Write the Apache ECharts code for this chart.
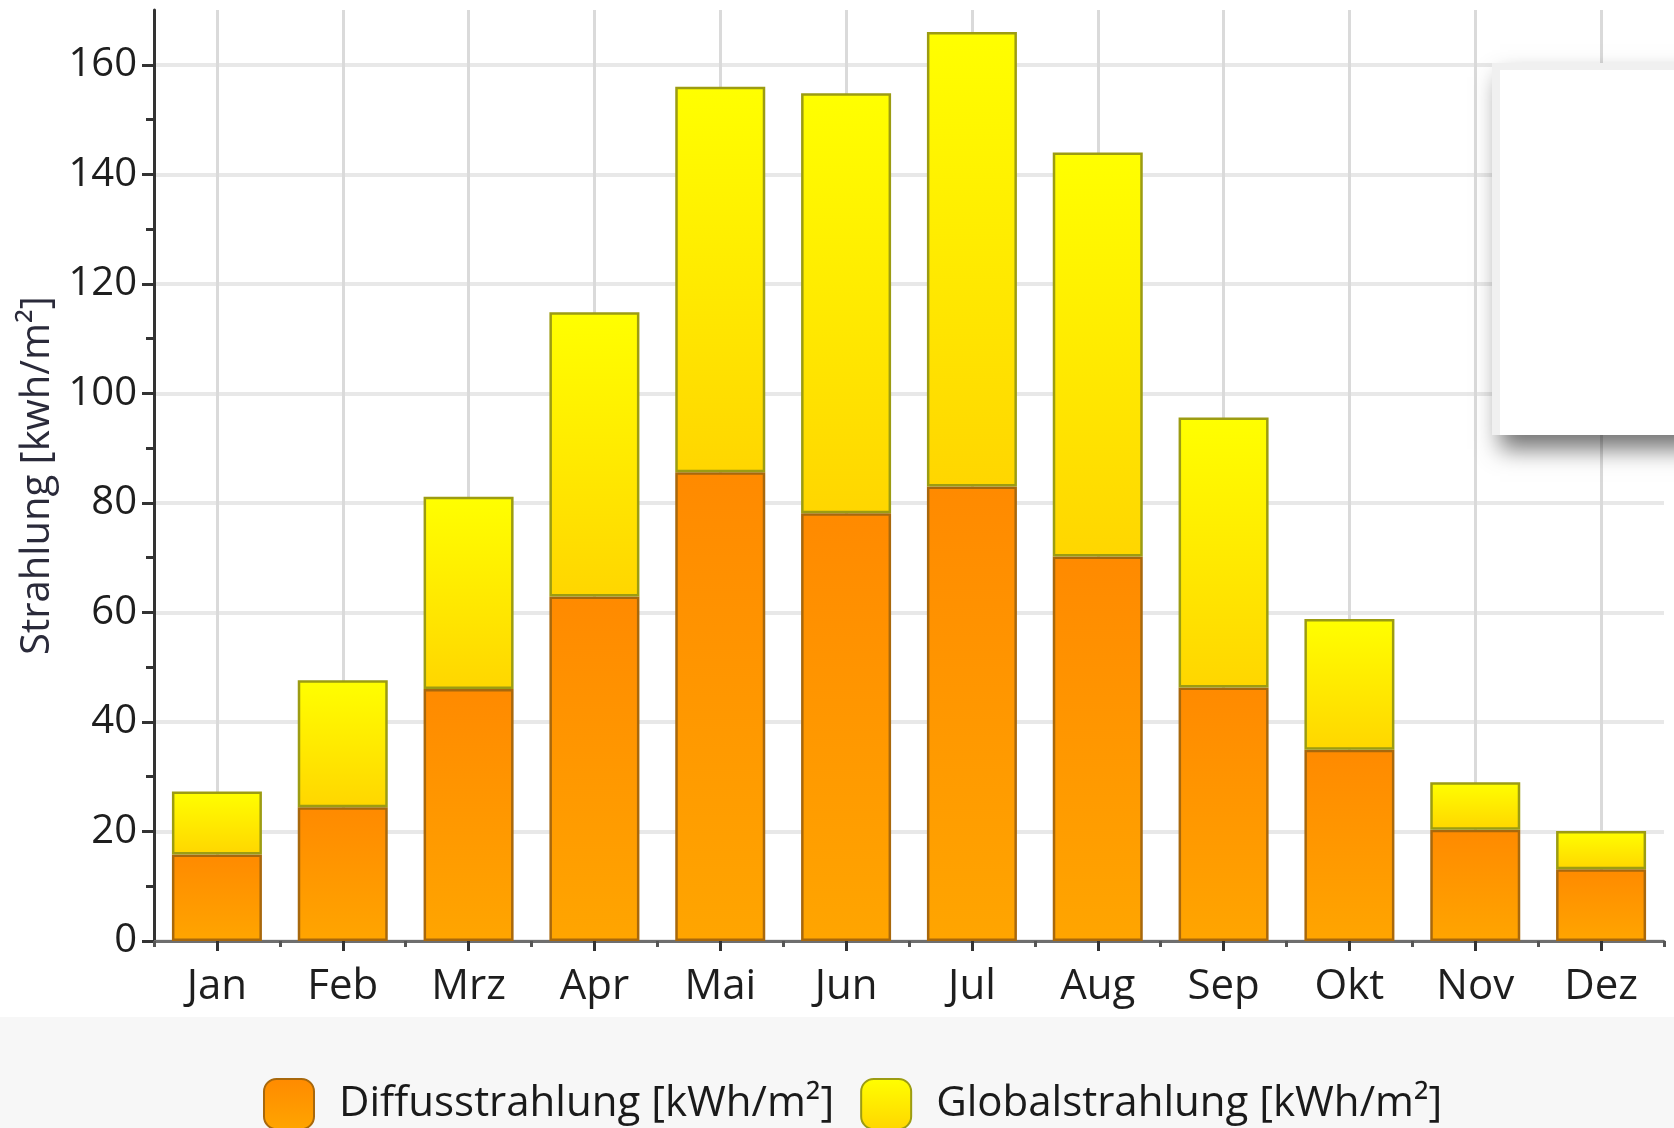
<!DOCTYPE html>
<html>
<head>
<meta charset="utf-8">
<script src="https://cdn.jsdelivr.net/npm/echarts@6/dist/echarts.min.js"></script>
<style>
html,body{margin:0;padding:0;background:#fff;}
#chart{width:1674px;height:1128px;}
</style>
</head>
<body>
<div id="chart"></div>
<script>
var categories = ['Jan','Feb','Mrz','Apr','Mai','Jun','Jul','Aug','Sep','Okt','Nov','Dez'];
var diffus = [15.8, 24.4, 46.0, 62.9, 85.6, 78.1, 83.0, 70.2, 46.3, 34.9, 20.3, 13.1];
var globalTotal = [27.3, 47.6, 81.1, 114.8, 156.0, 154.8, 166.0, 144.0, 95.6, 58.8, 29.0, 20.1];
var majorTicks = [0, 20, 40, 60, 80, 100, 120, 140, 160];
var minorTicks = [10, 30, 50, 70, 90, 110, 130, 150];
var nameDiffus = 'Diffusstrahlung [kWh/m²]';
var nameGlobal = 'Globalstrahlung [kWh/m²]';
var yName = 'Strahlung [kwh/m²]';

var globalSegment = globalTotal.map(function (g, i) { return +(g - diffus[i]).toFixed(1); });

var FONT = '"Open Sans", "Noto Sans", sans-serif';
var chart = echarts.init(document.getElementById('chart'), null, {renderer: 'canvas'});

var orangeGrad = new echarts.graphic.LinearGradient(0, 0, 0, 1, [
  {offset: 0, color: '#ff8a00'}, {offset: 1, color: '#ffa500'}
]);
var yellowGrad = new echarts.graphic.LinearGradient(0, 0, 0, 1, [
  {offset: 0, color: '#ffff00'}, {offset: 1, color: '#ffd600'}
]);

var option = {
  backgroundColor: '#ffffff',
  animation: false,
  textStyle: {fontFamily: FONT},
  graphic: [
    {type: 'rect', z: 0, silent: true, shape: {x: 0, y: 1017, width: 1674, height: 111}, style: {fill: '#f7f7f7'}},
    {type: 'rect', z: 100, silent: true, shape: {x: 1492, y: 63, width: 200, height: 372},
      style: {fill: '#f0f0f0', shadowBlur: 22, shadowOffsetX: 8, shadowOffsetY: 14, shadowColor: 'rgba(0,0,0,0.55)'}},
    {type: 'rect', z: 101, silent: true, shape: {x: 1500, y: 70, width: 200, height: 365},
      style: {fill: '#ffffff'}}
  ],
  grid: {left: 154, right: 10, top: 10, bottom: 187, containLabel: false},
  legend: {
    data: [nameDiffus, nameGlobal],
    left: 258, top: 1073,
    itemWidth: 50, itemHeight: 50, itemGap: 26,
    icon: 'roundRect',
    textStyle: {fontSize: 42, color: '#1a1a1a', fontFamily: FONT, padding: [0, 0, 0, 20]}
  },
  xAxis: [
    {
      type: 'category', data: categories, gridIndex: 0, position: 'bottom',
      axisLine: {show: true, lineStyle: {color: '#6e6e6e', width: 3}},
      axisTick: {show: true, alignWithLabel: true, length: 10, lineStyle: {color: '#333', width: 3}},
      axisLabel: {fontSize: 42, color: '#1e1e1e', margin: 25, fontFamily: FONT},
      splitLine: {show: true, alignWithLabel: true, lineStyle: {color: '#dadada', width: 3}}
    },
    {
      type: 'category', data: categories, gridIndex: 0, position: 'bottom',
      axisLine: {show: false},
      axisTick: {show: true, length: 6, lineStyle: {color: '#555', width: 3}},
      axisLabel: {show: false},
      splitLine: {show: false}
    }
  ],
  yAxis: [
    {
      type: 'value', min: 0, max: 170, interval: 20,
      name: yName, nameLocation: 'middle', nameGap: 86,
      nameTextStyle: {fontSize: 40, color: '#2a2a3a', fontFamily: FONT},
      axisLine: {show: true, lineStyle: {color: '#333', width: 3}},
      axisTick: {show: true, length: 12, customValues: majorTicks, lineStyle: {color: '#333', width: 3}},
      axisLabel: {fontSize: 40, color: '#1e1e1e', margin: 17, customValues: majorTicks, fontFamily: FONT},
      splitLine: {show: true, lineStyle: {color: '#e8e8e8', width: 4}}
    },
    {
      type: 'value', min: 0, max: 170, position: 'left',
      axisLine: {show: false},
      axisTick: {show: true, length: 8, customValues: minorTicks, lineStyle: {color: '#333', width: 3}},
      axisLabel: {show: false},
      splitLine: {show: false}
    }
  ],
  series: [
    {
      name: nameDiffus, type: 'bar', stack: 'total', data: diffus, barWidth: 90,
      xAxisIndex: 0, yAxisIndex: 0,
      itemStyle: {color: orangeGrad, borderColor: '#a8680c', borderWidth: 2.5}
    },
    {
      name: nameGlobal, type: 'bar', stack: 'total', data: globalSegment, barWidth: 90,
      xAxisIndex: 0, yAxisIndex: 0,
      itemStyle: {color: yellowGrad, borderColor: '#9c9c12', borderWidth: 2.5}
    }
  ]
};
chart.setOption(option);
</script>
</body>
</html>
